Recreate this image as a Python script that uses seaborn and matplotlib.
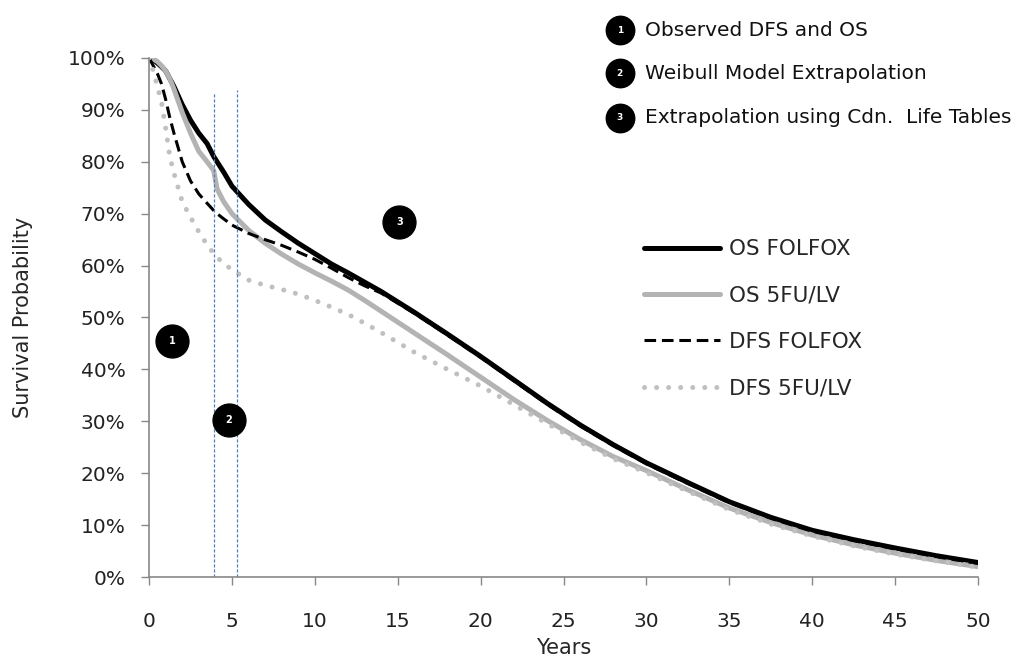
import matplotlib
matplotlib.use("Agg")
import matplotlib.pyplot as plt
import seaborn as sns
from matplotlib.ticker import FuncFormatter

# years since randomisation
years = [0, 0.25, 0.5, 0.75, 1, 1.25, 1.5, 2, 2.5, 3, 3.5, 3.9, 4.1, 4.5, 5, 6, 7, 8, 9, 10,
         11, 12, 13, 14, 16, 18, 20, 22, 24, 26, 28, 30, 32.5, 35, 37.5, 40, 42.5, 45, 47.5, 50]

# survival, percent
os_folfox = [100, 99.7, 99, 98.3, 97.5, 96, 94.5, 91, 88, 85.5, 83.5, 81, 80, 78, 75.3, 71.8, 68.8, 66.5, 64.3, 62.3,
             60.3, 58.6, 56.8, 55, 51, 46.8, 42.5, 38, 33.5, 29.3, 25.5, 22, 18.2, 14.5, 11.5, 9, 7.2, 5.6, 4.1, 2.8]
os_5fu = [100, 99.8, 99.3, 98.5, 97.5, 96, 94, 89.5, 85.5, 82, 80, 78.3, 74.8, 72.3, 70, 66.8, 64.3, 62.2, 60.3, 58.6,
          57, 55.3, 53.3, 51.2, 47, 42.8, 38.5, 34.2, 30.2, 26.5, 23.2, 20.5, 16.8, 13.3, 10.5, 8.1, 6.2, 4.6, 3.2, 2.0]
dfs_folfox = [100, 98.5, 97, 95, 92, 88.5, 85.5, 80, 76.3, 73.8, 72, 70.6, 70, 69, 67.8, 66.2, 65, 63.9, 62.6, 61.2,
              59.5, 57.7, 56.1, 54.7, 50.8, 46.6, 42.3, 37.8, 33.3, 29.1, 25.3, 21.8, 18, 14.3, 11.3, 8.8, 7, 5.4, 3.9, 2.6]
dfs_5fu = [100, 97.5, 94.5, 91.5, 86.5, 81, 77.8, 72.3, 69.3, 66.5, 64, 62.3, 61.6, 60.4, 59.2, 57.2, 56.2, 55.4, 54.5, 53.3,
           52, 50.6, 48.9, 47.1, 43.3, 40, 36.8, 33.2, 29.6, 26, 22.8, 20.1, 16.5, 13, 10.2, 7.9, 6, 4.4, 3.1, 1.9]

# observed data end / extrapolation start
cutoff_years = [3.9, 5.3]
cutoff_tops = [93.3, 93.8]

# numbered markers: (year, percent, label)
marker_years = [1.4, 4.8, 15.1]
marker_vals = [45.5, 30.2, 68.4]
marker_labels = ["1", "2", "3"]
key_texts = ["Observed DFS and OS", "Weibull Model Extrapolation", "Extrapolation using Cdn.  Life Tables"]

sns.set_style("white")
plt.rcParams["font.family"] = ["DejaVu Sans"]

fig = plt.figure(figsize=(10.21, 6.58), dpi=100)
ax = fig.add_axes([0.146, 0.123, 0.812, 0.789])

sns.lineplot(x=years, y=os_folfox, ax=ax, color="black", lw=3.6, label="OS FOLFOX")
sns.lineplot(x=years, y=os_5fu, ax=ax, color="#b3b3b3", lw=3.6, label="OS 5FU/LV")
sns.lineplot(x=years, y=dfs_folfox, ax=ax, color="black", lw=2.2, label="DFS FOLFOX",
             linestyle=(0, (3.8, 1.9)))
sns.lineplot(x=years, y=dfs_5fu, ax=ax, color="#c0c0c0", lw=3.6, label="DFS 5FU/LV",
             linestyle=(0, (0.01, 2.4)), dash_capstyle="round")

ax.vlines(cutoff_years, 0, cutoff_tops, colors="#4f81bd", lw=0.9, linestyles=(0, (2.5, 1.5)))

ax.scatter(marker_years, marker_vals, s=560, color="black", zorder=5)
for x, y, t in zip(marker_years, marker_vals, marker_labels):
    ax.text(x, y, t, color="white", ha="center", va="center", fontsize=7, fontweight="bold", zorder=6)

# key in the top right corner
key_y = [0.954, 0.889, 0.821]
ax.scatter([0.607] * 3, key_y, s=420, color="black", transform=fig.transFigure, clip_on=False)
for y, t, k in zip(key_y, marker_labels, key_texts):
    fig.text(0.607, y, t, color="white", ha="center", va="center", fontsize=6.5, fontweight="bold")
    fig.text(0.632, y, k, color="#111111", ha="left", va="center", fontsize=14.5)

ax.set_xlim(0, 50)
ax.set_ylim(0, 100)
ax.set_xticks(range(0, 51, 5))
ax.set_yticks(range(0, 101, 10))
ax.yaxis.set_major_formatter(FuncFormatter(lambda v, p: f"{v:.0f}%"))
ax.tick_params(axis="both", labelsize=14.5, colors="#222222", length=6, width=1, direction="out",
               left=True, bottom=True, color="#888888")
ax.tick_params(axis="x", pad=19)
ax.tick_params(axis="y", pad=11)
for s in ["top", "right"]:
    ax.spines[s].set_visible(False)
for s in ["left", "bottom"]:
    ax.spines[s].set_color("#888888")
    ax.spines[s].set_linewidth(1.2)

ax.set_xlabel("Years", fontsize=15)
ax.set_ylabel("Survival Probability", fontsize=15)
ax.xaxis.set_label_coords(0.5, -0.117)
ax.yaxis.set_label_coords(-0.14, 0.5)

ax.legend(loc="upper left", bbox_to_anchor=(0.587, 0.667), frameon=False, fontsize=15.5,
          handlelength=3.5, handletextpad=0.45, labelspacing=1.22, borderaxespad=0)

fig.savefig("out.png", dpi=100, facecolor="white")
